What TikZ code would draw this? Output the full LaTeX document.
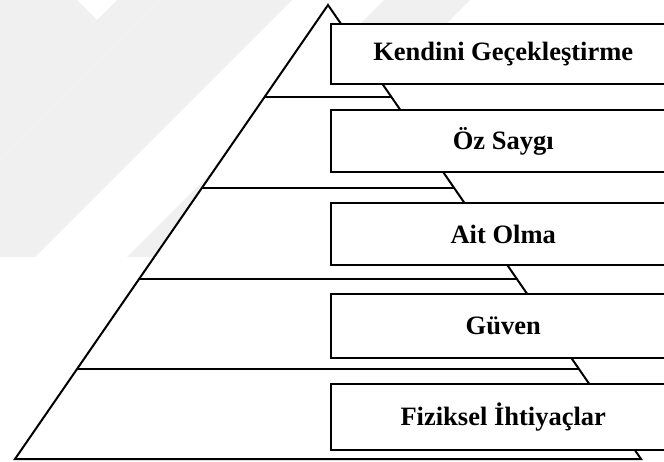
\documentclass[tikz,border=0pt]{standalone}
\usepackage{fontspec}
\setmainfont{Liberation Serif}
\usetikzlibrary{calc}
\definecolor{wm}{gray}{0.94}
\tikzset{
  pyr/.style={draw=black, line width=2pt, line join=miter},
  layerbox/.style={draw=black, fill=white, line width=2.4pt, anchor=north west,
    minimum width=344pt, inner sep=0pt,
    font=\fontsize{26.5}{30}\selectfont\bfseries},
  wmark/.style={fill=wm, draw=none}
}
\begin{document}
\begin{tikzpicture}[x=1pt,y=-1pt]
\useasboundingbox (0,0) rectangle (664,461);
\begin{scope}
\clip (0,0) rectangle (664,461);
\fill[white] (0,0) rectangle (664,461);
% faint watermark
\path[wmark] (0,0) -- (77,0) -- (97,20) -- (117,0) -- (160,0) -- (0,160) -- cycle;
\path[wmark] (160,0) -- (292,0) -- (35,257) -- (0,257) -- (0,160) -- cycle;
\path[wmark] (384,0) -- (470,0) -- (213,257) -- (127,257) -- cycle;
% pyramid
\coordinate (apex) at (328,5);
\coordinate (bl) at (15,459);
\coordinate (br) at (641,459);
\path[pyr, fill=white] (apex) -- (bl) -- (br) -- cycle;
\foreach \t/\n in {0.2026/a,0.4031/b,0.6035/c,0.8018/d}{
  \coordinate (L\n) at ($(apex)!\t!(bl)$);
  \coordinate (R\n) at ($(apex)!\t!(br)$);
  \draw[pyr] (L\n) -- (R\n);
}
% boxes
\node[layerbox, minimum height=60pt] (k1) at (330,23) {Kendini Geçekleştirme};
\node[layerbox, minimum height=62pt] (k2) at (330,109) {Öz Saygı};
\node[layerbox, minimum height=62pt] (k3) at (330,202) {Ait Olma};
\node[layerbox, minimum height=64pt] (k4) at (330,293) {Güven};
\node[layerbox, minimum height=66pt] (k5) at (330,383) {Fiziksel İhtiyaçlar};
\end{scope}
\end{tikzpicture}
\end{document}
